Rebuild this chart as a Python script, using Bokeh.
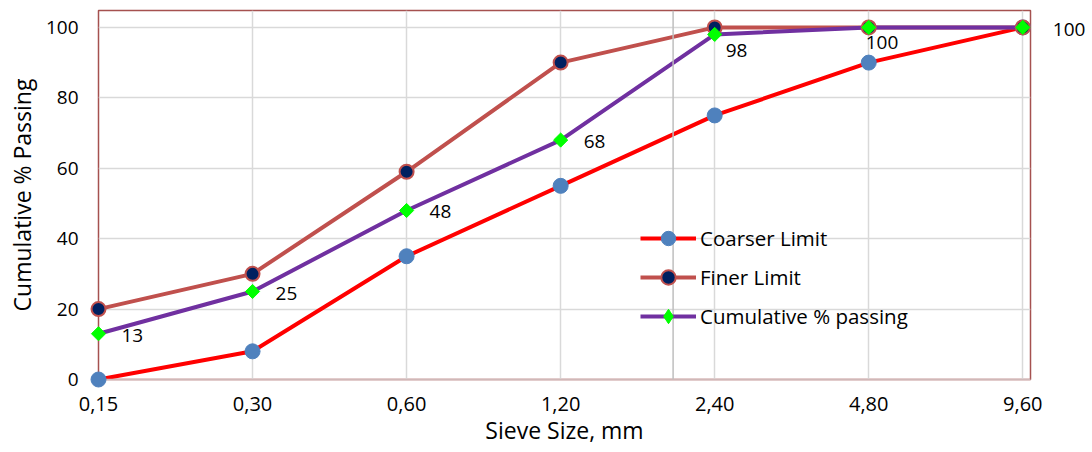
import math
from bokeh.plotting import figure
from bokeh.models import (ColumnDataSource, Legend, LegendItem, FixedTicker, Span,
                          Range1d)
from bokeh.core.properties import value
from bokeh.embed import file_html
from bokeh.resources import INLINE

sieve_labels = ["0,15", "0,30", "0,60", "1,20", "2,40", "4,80", "9,60"]
coarser_limit = [0, 8, 35, 55, 75, 90, 100]
finer_limit = [20, 30, 59, 90, 100, 100, 100]
cumulative_passing = [13, 25, 48, 68, 98, 100, 100]

# label offsets (pixels) for data labels of the cumulative series
label_dx = [23, 23, 23, 23, 11, -3, 30]
label_dy = [2, 2, 1, 1, 16, 15, 2]

FONT = "Open Sans"
x_idx = list(range(len(sieve_labels)))

src = ColumnDataSource(dict(
    x=x_idx, coarser=coarser_limit, finer=finer_limit, cum=cumulative_passing,
    lbl=[str(v) for v in cumulative_passing], dx=label_dx, dy=label_dy))

p = figure(width=1092, height=452, output_backend="svg", toolbar_location=None,
           x_range=Range1d(0, 6.05), y_range=Range1d(0, 104.8),
           min_border_left=98, min_border_right=62, min_border_top=10,
           min_border_bottom=73)
p.background_fill_color = "white"
p.border_fill_color = "white"
p.outline_line_color = "#A5514F"
p.outline_line_width = 1.5

# grid
p.xgrid.grid_line_color = "#D9D9D9"
p.ygrid.grid_line_color = "#D9D9D9"
p.xgrid.grid_line_width = 1.5
p.ygrid.grid_line_width = 1.5
p.add_layout(Span(location=3.73, dimension="height", line_color="#BFBFBF", line_width=1.5))

# axes
p.xaxis.ticker = FixedTicker(ticks=x_idx)
p.xaxis.major_label_overrides = {i: s for i, s in enumerate(sieve_labels)}
p.yaxis.ticker = FixedTicker(ticks=[0, 20, 40, 60, 80, 100])
for ax in (p.xaxis[0], p.yaxis[0]):
    ax.major_tick_line_color = None
    ax.minor_tick_line_color = None
    ax.major_tick_out = 0
    ax.major_tick_in = 0
    ax.major_label_text_font = FONT
    ax.major_label_text_color = "black"
    ax.axis_label_text_font = FONT
    ax.axis_label_text_font_size = "23px"
    ax.axis_label_text_font_style = "normal"
    ax.axis_label_text_color = "black"
p.xaxis.major_label_text_font_size = "20px"
p.yaxis.major_label_text_font_size = "19px"
p.xaxis.axis_line_color = "#D0B8B8"
p.xaxis.axis_line_width = 1.5
p.yaxis.axis_line_color = None
p.xaxis.axis_label = "Sieve Size, mm"
p.yaxis.axis_label = "Cumulative % Passing"
p.xaxis.major_label_standoff = 17
p.xaxis.axis_label_standoff = 0
p.yaxis.major_label_standoff = 20
p.yaxis.axis_label_standoff = 5

# series
l1 = p.line("x", "coarser", source=src, line_color="#FF0000", line_width=4)
l2 = p.line("x", "finer", source=src, line_color="#C0504D", line_width=4)
l3 = p.line("x", "cum", source=src, line_color="#7030A0", line_width=4)
m1 = p.scatter("x", "coarser", source=src, marker="circle", size=15,
               fill_color="#4F81BD", line_color="#4F81BD", level="overlay")
m2 = p.scatter("x", "finer", source=src, marker="circle", size=14,
               fill_color="#002060", line_color="#C0504D", line_width=2, level="overlay")
m3 = p.scatter("x", "cum", source=src, marker="square", size=10, angle=math.pi / 4,
               fill_color="#00FF00", line_color="#00FF00", level="overlay")

# legend-only diamond (NaN coordinates, draws nothing on the plot)
nan_src = ColumnDataSource(dict(x=[float("nan")], y=[float("nan")]))
m3_leg = p.scatter("x", "y", source=nan_src, marker="diamond", size=18,
                   fill_color="#00FF00", line_color="#00FF00")

p.text("x", "cum", text="lbl", source=src, x_offset="dx", y_offset="dy",
       text_font=value(FONT), text_font_size="19px", text_color="black",
       text_align="left", text_baseline="middle", level="overlay")

legend = Legend(items=[
    LegendItem(label="Coarser Limit", renderers=[l1, m1]),
    LegendItem(label="Finer Limit", renderers=[l2, m2]),
    LegendItem(label="Cumulative % passing", renderers=[l3, m3_leg]),
], location=(542, 45))
legend.background_fill_alpha = 0
legend.border_line_color = None
legend.padding = 0
legend.margin = 0
legend.spacing = 3
legend.glyph_width = 56
legend.glyph_height = 36
legend.label_standoff = 4
legend.label_text_font = FONT
legend.label_text_font_size = "20.5px"
legend.label_text_color = "black"
legend.label_height = 36
p.add_layout(legend, "center")

open("out.html", "w").write(file_html(p, INLINE))
